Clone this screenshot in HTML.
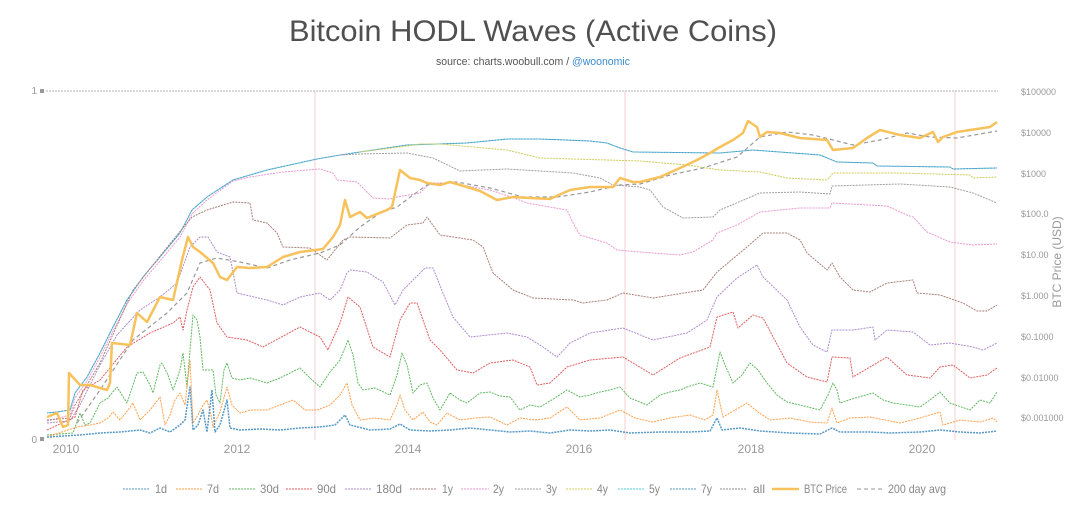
<!DOCTYPE html>
<html><head><meta charset="utf-8"><style>
html,body{margin:0;padding:0;background:#fff;}
svg{display:block;}
text{font-family:"Liberation Sans",sans-serif;}
</style></head><body>
<svg width="1080" height="513" viewBox="0 0 1080 513" xmlns="http://www.w3.org/2000/svg">
<rect width="1080" height="513" fill="#fff"/>
<!-- title -->
<text x="289" y="41" font-size="30" fill="#505050" textLength="488" lengthAdjust="spacingAndGlyphs">Bitcoin HODL Waves (Active Coins)</text>
<text x="436" y="65" font-size="11" fill="#555" textLength="194" lengthAdjust="spacingAndGlyphs">source: charts.woobull.com / <tspan fill="#3b8bd0">@woonomic</tspan></text>

<!-- halving lines -->
<g stroke="#f5d0d0" stroke-width="1">
<line x1="315" y1="91" x2="315" y2="440"/>
<line x1="625" y1="91" x2="625" y2="440"/>
<line x1="955" y1="91" x2="955" y2="440"/>
</g>

<!-- left axis -->
<text x="37" y="94" font-size="10" fill="#999" text-anchor="end">1</text>
<rect x="40" y="89" width="4" height="4" fill="#999"/>
<text x="37" y="443" font-size="10" fill="#999" text-anchor="end">0</text>
<rect x="40" y="437" width="4" height="4" fill="#999"/>

<!-- x ticks -->
<g font-size="12" fill="#999" text-anchor="middle">
<text x="66" y="453">2010</text>
<text x="237" y="453">2012</text>
<text x="408" y="453">2014</text>
<text x="579" y="453">2016</text>
<text x="751" y="453">2018</text>
<text x="922" y="453">2020</text>
</g>

<!-- right axis -->
<g font-size="9" fill="#999">
<text x="1021" y="95">$100000</text>
<text x="1021" y="136">$10000</text>
<text x="1021" y="177">$1000</text>
<text x="1021" y="217">$100.0</text>
<text x="1021" y="258">$10.00</text>
<text x="1021" y="299">$1.000</text>
<text x="1021" y="340">$0.1000</text>
<text x="1021" y="381">$0.01000</text>
<text x="1021" y="421">$0.001000</text>
</g>
<text transform="translate(1061,262) rotate(-90)" font-size="12" fill="#999" text-anchor="middle">BTC Price (USD)</text>

<g fill="none" stroke-width="1" stroke-dasharray="2 1" stroke-linejoin="round" opacity="0.75">
<!-- all -->
<line x1="46" y1="91" x2="998" y2="91" stroke="#9a9a9a"/>
<!-- 5y -->
<polyline stroke="#17becf" points="47,413 57,412 70,410 75,393 87,377 100,353 113,327 127,300 143,277 160,257 180,233 192,210 207,197 233,180 267,170 317,159 340,155 360,152 407,145 467,143 507,139 540,139 590,141 607,143 620,148 633,152 720,153 753,150 820,155 837,162 873,163 877,166 950,167 953,169 997,168"/>
<!-- 7y -->
<polyline stroke="#1f77b4" stroke-dashoffset="1" points="47,413 57,412 70,410 75,393 87,377 100,353 113,327 127,300 143,277 160,257 180,233 192,210 207,197 233,180 267,170 317,159 340,155 360,152 407,145 467,143 507,139 540,139 590,141 607,143 620,148 633,152 720,153 753,150 820,155 837,162 873,163 877,166 950,167 953,169 997,168"/>
<!-- 4y -->
<polyline stroke="#bcbd22" points="360,152 407,146 420,144 440,144 473,147 507,150 540,158 573,159 640,161 687,165 720,170 760,172 787,178 827,180 833,173 900,173 970,175 973,178 997,177"/>
<!-- 3y -->
<polyline stroke="#7f7f7f" points="340,155 360,154 407,153 433,158 460,171 507,169 573,173 600,178 613,185 640,187 650,190 663,207 683,218 713,217 720,210 760,193 800,192 830,194 832,186 900,184 950,187 973,193 997,203"/>
<!-- 2y -->
<polyline stroke="#e377c2" points="47,421 70,415 75,398 87,381 100,357 113,331 127,304 143,281 160,261 180,237 192,214 207,200 233,181 250,177 283,172 320,169 333,173 337,180 357,182 373,198 390,199 397,197 420,193 430,183 450,183 490,190 517,199 527,203 567,210 573,223 580,235 607,243 617,250 640,252 680,255 693,252 713,240 717,233 737,225 760,212 800,208 830,208 832,203 887,206 907,215 913,217 927,232 950,242 973,245 997,244"/>
<!-- 1y -->
<polyline stroke="#8c564b" points="47,420 70,418 75,405 87,385 100,363 133,290 173,240 192,217 207,210 233,202 250,203 253,220 267,223 277,233 283,247 310,248 327,260 343,240 350,237 390,238 407,225 423,223 427,217 440,235 473,240 483,247 493,273 513,290 533,298 573,300 583,303 607,300 623,293 653,298 703,290 717,272 747,247 763,233 787,233 800,240 807,253 827,270 832,263 840,277 853,290 870,292 887,283 913,280 917,293 940,295 963,303 977,311 987,311 997,305"/>
<!-- 180d -->
<polyline stroke="#9467bd" points="47,423 70,421 80,405 100,365 117,335 140,310 160,297 177,283 190,247 200,237 208,237 217,252 230,257 237,293 267,300 283,305 300,297 320,293 330,300 340,290 347,273 350,270 367,272 383,282 395,305 403,290 413,280 425,268 433,268 443,293 453,317 470,337 507,333 527,337 543,347 557,357 570,343 590,333 623,328 653,340 687,333 707,320 717,297 737,278 757,265 763,277 787,300 800,327 813,345 827,352 832,330 853,330 873,327 875,340 887,330 913,332 930,345 950,343 973,347 983,350 997,343"/>
<!-- 90d -->
<polyline stroke="#d62728" points="47,430 75,417 83,390 100,380 127,347 150,333 173,323 180,317 183,330 187,310 193,287 200,277 210,290 217,323 227,337 247,340 263,347 300,327 320,337 328,350 340,323 348,297 360,307 373,347 390,357 400,320 410,303 417,303 430,340 440,350 457,370 473,373 490,363 513,360 530,367 537,385 550,383 567,367 590,360 623,357 653,375 680,358 710,347 717,317 733,312 738,328 753,315 763,318 787,363 807,377 827,382 832,357 850,358 853,377 887,357 907,375 930,378 940,367 953,365 970,378 987,375 997,368"/>
<!-- 30d -->
<polyline stroke="#2ca02c" points="47,435 73,433 80,413 85,425 90,423 100,403 108,398 117,387 122,395 127,403 137,373 143,372 150,385 153,393 160,365 162,363 168,375 173,390 180,370 183,353 187,387 190,350 193,315 197,320 200,337 203,370 213,370 216,395 220,403 224,370 227,363 232,378 240,380 250,378 267,383 280,378 300,368 310,378 320,387 330,372 340,360 348,340 353,355 358,383 363,390 375,388 390,395 397,375 402,353 407,365 413,393 420,385 427,383 433,398 440,410 450,393 460,400 467,403 480,393 490,392 500,396 510,397 520,410 530,405 540,407 555,398 567,390 580,397 590,395 600,392 610,390 620,387 630,398 647,405 660,395 670,392 680,390 687,387 700,383 713,387 720,352 725,365 733,383 742,375 750,363 758,370 767,383 777,395 787,402 800,405 820,410 828,395 833,383 837,390 840,403 855,398 873,393 883,400 893,403 907,405 920,407 930,400 940,392 950,403 970,410 980,400 990,403 997,392"/>
<!-- 7d -->
<polyline stroke="#ff7f0e" points="47,437 77,427 90,425 100,423 108,418 113,412 120,420 128,410 133,403 140,420 150,410 160,397 165,425 170,415 175,400 180,393 185,405 190,360 193,423 198,415 203,405 207,400 211,415 213,427 220,412 227,387 232,405 240,413 250,410 267,410 280,405 293,400 305,410 317,410 330,405 340,395 347,383 352,405 360,420 375,418 390,420 397,405 400,395 405,410 413,420 423,412 430,422 437,425 447,413 460,420 475,418 490,417 507,425 520,418 535,420 550,418 567,407 575,415 580,420 600,418 620,410 635,418 653,422 670,418 690,415 705,420 713,415 717,390 723,417 735,410 747,403 758,412 770,420 790,418 810,422 827,423 832,408 837,423 850,418 870,417 885,420 900,423 920,418 940,412 943,425 960,420 980,422 993,418 997,422"/>
<!-- 1d -->
<polyline stroke="#1f77b4" stroke-width="1.5" points="47,437 80,435 100,433 120,432 140,430 150,433 160,428 170,432 180,425 185,420 190,387 193,430 198,425 203,410 207,432 212,390 215,432 220,425 227,400 230,428 240,430 260,429 280,430 300,428 320,427 335,425 345,415 350,425 370,430 390,429 400,424 410,430 430,431 450,430 470,428 490,430 510,432 530,431 550,433 570,430 590,431 610,430 630,433 660,432 690,432 710,431 717,418 722,430 740,428 760,431 790,433 820,434 832,428 840,432 870,432 890,433 920,432 940,430 960,432 980,433 997,431"/>
</g>

<!-- 200 day avg -->
<polyline fill="none" stroke="#999" stroke-width="1.2" stroke-dasharray="4 3" points="77,423 100,390 133,340 167,313 187,293 200,263 217,258 240,262 267,268 290,260 320,253 340,245 360,227 380,213 397,207 413,195 427,185 457,182 490,188 523,197 557,197 590,192 620,185 640,184 670,175 703,168 737,157 760,137 787,132 813,135 853,145 880,140 907,133 930,137 957,138 997,131"/>
<!-- BTC price -->
<polyline fill="none" stroke="#f7c25c" stroke-width="2.5" stroke-linejoin="round" points="47,417 57,413 63,427 68,425 69,373 80,385 90,385 100,388 107,390 110,383 112,343 130,345 137,313 147,322 160,297 173,300 182,260 188,237 193,247 200,252 213,263 220,277 227,280 237,267 250,268 267,267 283,257 300,252 323,249 333,237 340,225 345,200 350,217 360,212 367,218 387,210 392,207 400,170 410,178 420,180 427,183 440,185 450,182 467,187 480,191 497,200 513,197 530,198 550,199 570,190 590,187 613,187 620,178 633,182 640,182 660,177 680,168 697,160 710,153 720,147 733,140 743,133 748,121 757,127 760,137 767,132 780,133 800,138 827,140 833,150 853,148 867,138 880,130 900,135 920,138 933,132 938,142 943,137 957,132 970,130 990,127 997,122"/>

<!-- legend -->
<g stroke-width="1" stroke-dasharray="2 1" opacity="0.75">
<line x1="123" y1="489" x2="150" y2="489" stroke="#1f77b4"/>
<line x1="176" y1="489" x2="203" y2="489" stroke="#ff7f0e"/>
<line x1="229" y1="489" x2="255" y2="489" stroke="#2ca02c"/>
<line x1="286" y1="489" x2="313" y2="489" stroke="#d62728"/>
<line x1="345" y1="489" x2="372" y2="489" stroke="#9467bd"/>
<line x1="410" y1="489" x2="437" y2="489" stroke="#8c564b"/>
<line x1="461" y1="489" x2="489" y2="489" stroke="#e377c2"/>
<line x1="515" y1="489" x2="542" y2="489" stroke="#7f7f7f"/>
<line x1="566" y1="489" x2="592" y2="489" stroke="#bcbd22"/>
<line x1="618" y1="489" x2="644" y2="489" stroke="#17becf"/>
<line x1="670" y1="489" x2="697" y2="489" stroke="#1f77b4"/>
<line x1="720" y1="489" x2="747" y2="489" stroke="#6f6a66"/>
</g>
<line x1="772" y1="489" x2="799" y2="489" stroke="#f7c25c" stroke-width="2.5"/>
<line x1="857" y1="489" x2="883" y2="489" stroke="#aaa" stroke-width="1.2" stroke-dasharray="4 3"/>
<g font-size="12" fill="#888">
<text x="155" y="493" textLength="12" lengthAdjust="spacingAndGlyphs">1d</text>
<text x="207" y="493" textLength="12" lengthAdjust="spacingAndGlyphs">7d</text>
<text x="260" y="493" textLength="19" lengthAdjust="spacingAndGlyphs">30d</text>
<text x="317" y="493" textLength="19" lengthAdjust="spacingAndGlyphs">90d</text>
<text x="376" y="493" textLength="26" lengthAdjust="spacingAndGlyphs">180d</text>
<text x="442" y="493" textLength="11" lengthAdjust="spacingAndGlyphs">1y</text>
<text x="493" y="493" textLength="11" lengthAdjust="spacingAndGlyphs">2y</text>
<text x="546" y="493" textLength="11" lengthAdjust="spacingAndGlyphs">3y</text>
<text x="597" y="493" textLength="11" lengthAdjust="spacingAndGlyphs">4y</text>
<text x="649" y="493" textLength="11" lengthAdjust="spacingAndGlyphs">5y</text>
<text x="701" y="493" textLength="11" lengthAdjust="spacingAndGlyphs">7y</text>
<text x="753" y="493" textLength="12" lengthAdjust="spacingAndGlyphs">all</text>
<text x="804" y="493" textLength="43" lengthAdjust="spacingAndGlyphs">BTC Price</text>
<text x="888" y="493" textLength="58" lengthAdjust="spacingAndGlyphs">200 day avg</text>
</g>
</svg>
</body></html>
